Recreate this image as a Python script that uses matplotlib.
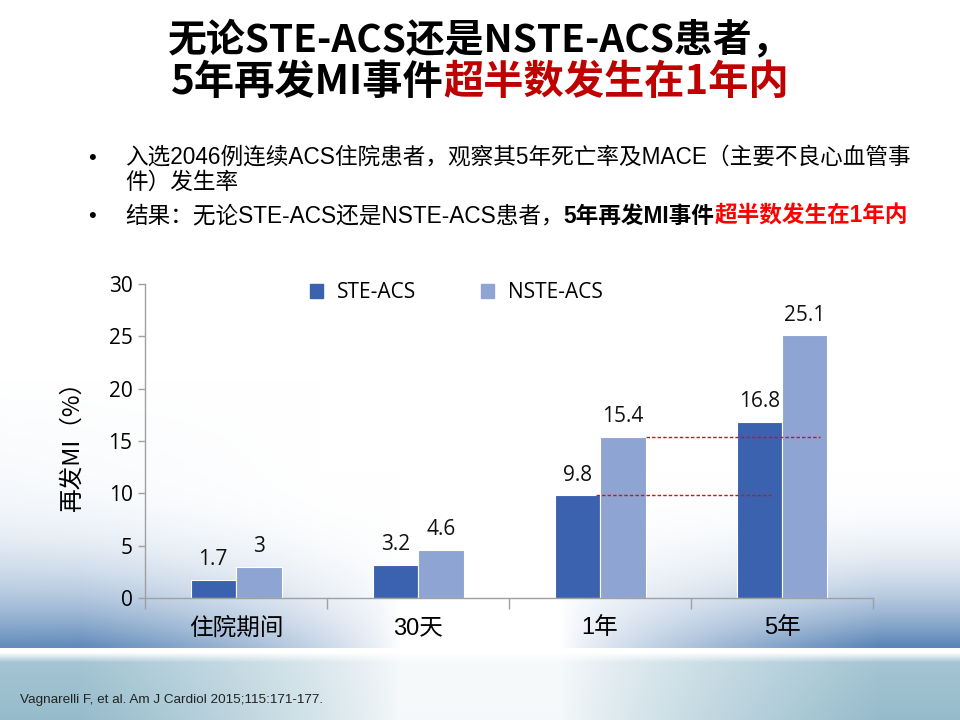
import numpy as np
import matplotlib
matplotlib.use("Agg")
import matplotlib.pyplot as plt
from matplotlib.patches import Patch

plt.rcParams['font.family'] = ['Noto Sans CJK SC', 'DejaVu Sans']

# data
categories = ["住院期间", "30天", "1年", "5年"]
ste_acs = [1.7, 3.2, 9.8, 16.8]
nste_acs = [3, 4.6, 15.4, 25.1]
series_names = ["STE-ACS", "NSTE-ACS"]
y_ticks = [0, 5, 10, 15, 20, 25, 30]

title_line1 = "无论STE-ACS还是NSTE-ACS患者，"
title_line2 = [("5年再发MI事件", "black"), ("超半数发生在1年内", "#C00000")]
bullet1 = ["入选2046例连续ACS住院患者，观察其5年死亡率及MACE（主要不良心血管事",
           "件）发生率"]
bullet2 = [("结果：无论STE-ACS还是NSTE-ACS患者，", "black", "normal"),
           ("5年再发MI事件", "black", "bold"),
           ("超半数发生在1年内", "#FF0000", "bold")]
citation = "Vagnarelli F, et al. Am J Cardiol 2015;115:171-177."

ste_color = "#3B62AE"
nste_color = "#8EA4D3"
W, H = 960, 720
body_font = ["Liberation Sans", "Noto Sans CJK SC"]
num_font = ["Open Sans", "DejaVu Sans"]


def make_background():
    yy, xx = np.mgrid[0:H, 0:W].astype(float)
    side = np.clip((np.abs(xx - W / 2) - 80) / 320, 0, 1) ** 0.8
    img = np.ones((H, W, 3))

    # bluish build-up towards the dark band on both sides
    a = np.clip((yy - 470) / 175, 0, 1) ** 2.5 * (yy < 648)
    blue = np.array([0.24, 0.44, 0.67])
    s = (a * side * 0.85)[..., None]
    img = img * (1 - s) + blue * s

    # faint light blue haze behind the chart on the left
    haze = 0.16 * np.clip((yy - 380) / 200, 0, 1) * np.clip((320 - xx) / 320, 0, 1)
    haze = haze * (yy < 648)
    img = img * (1 - haze[..., None]) + np.array([0.6, 0.72, 0.85]) * haze[..., None]

    # lower teal floor, bright in the middle
    fade = np.clip((yy - 652) / 10, 0, 1)
    b = fade * (0.08 + 0.8 * side) * (0.85 + 0.15 * np.clip((yy - 656) / 64, 0, 1))
    teal = np.array([0.53, 0.70, 0.77])
    img = img * (1 - b[..., None]) + teal * b[..., None]
    return np.clip(img, 0, 1)


def rich_text(fig, renderer, x, y, parts, ha="left", **common):
    texts = []
    for s, color, weight in parts:
        t = fig.text(0, y, s, color=color, fontweight=weight, va="center", **common)
        texts.append(t)
    widths = [t.get_window_extent(renderer).width / fig.bbox.width for t in texts]
    total = sum(widths)
    cur = x - total / 2 if ha == "center" else x
    for t, w in zip(texts, widths):
        t.set_x(cur)
        cur += w


fig = plt.figure(figsize=(9.6, 7.2), dpi=100)
renderer = fig.canvas.get_renderer()

bg = fig.add_axes([0, 0, 1, 1], zorder=-1)
bg.imshow(make_background(), aspect="auto", extent=[0, 1, 0, 1])
bg.axis("off")

# title
fig.text(0.5, 1 - 40 / H, title_line1, ha="center", va="center",
         fontsize=28, fontweight="heavy", color="black")
rich_text(fig, renderer, 0.5, 1 - 82 / H,
          [(s, c, "heavy") for s, c in title_line2], ha="center", fontsize=29)

# bullets
fig.text(88 / W, 1 - 158 / H, "•", fontsize=16, va="center", family=body_font)
fig.text(125 / W, 1 - 157 / H, bullet1[0], fontsize=16.3, va="center", family=body_font)
fig.text(125 / W, 1 - 182 / H, bullet1[1], fontsize=16.3, va="center", family=body_font)
fig.text(88 / W, 1 - 217 / H, "•", fontsize=16, va="center", family=body_font)
rich_text(fig, renderer, 125 / W, 1 - 216 / H, bullet2, fontsize=16.3, family=body_font)

# chart
ax = fig.add_axes([145 / W, 1 - 598 / H, (873 - 145) / W, (598 - 284) / H])
ax.patch.set_alpha(0)
x = np.arange(len(categories))
bw = 0.25
b1 = ax.bar(x - bw / 2, ste_acs, bw, color=ste_color, edgecolor="white", linewidth=0.8,
            label=series_names[0])
b2 = ax.bar(x + bw / 2, nste_acs, bw, color=nste_color, edgecolor="white", linewidth=0.8,
            label=series_names[1])

for bars, vals in [(b1, ste_acs), (b2, nste_acs)]:
    for rect, v in zip(bars, vals):
        ax.annotate(f"{v:g}", (rect.get_x() + rect.get_width() / 2, v),
                    xytext=(0, 7), textcoords="offset points", ha="center", va="bottom",
                    fontsize=15, family=num_font, color="#111111")

# dashed reference lines from the 1年 values
ax.plot([2.25, 3.21], [nste_acs[2], nste_acs[2]], color="#D0101A", lw=1.0,
        dashes=(2.5, 1.5))
ax.plot([1.98, 2.94], [ste_acs[2], ste_acs[2]], color="#D0101A", lw=1.0,
        dashes=(2.5, 1.5))

ax.set_xlim(-0.5, 3.5)
ax.set_ylim(0, 30)
ax.set_yticks(y_ticks)
ax.set_yticklabels([str(v) for v in y_ticks], family=num_font, fontsize=15)
ax.set_xticks(np.arange(-0.5, 4.0, 1.0))
ax.set_xticklabels([])
ax.tick_params(axis="x", length=8, color="#A0A0A0", width=1)
ax.tick_params(axis="y", length=5, color="#A0A0A0", width=1, pad=4)
for i, c in enumerate(categories):
    ax.text(i, -2.9, c, ha="center", va="center", fontsize=17, family=body_font)
for s in ["top", "right"]:
    ax.spines[s].set_visible(False)
for s in ["left", "bottom"]:
    ax.spines[s].set_color("#A0A0A0")
    ax.spines[s].set_linewidth(1)
ax.set_ylabel("再发MI（%）", fontsize=17, labelpad=18)

handles = [Patch(color=ste_color), Patch(color=nste_color)]
ax.legend(handles, series_names, loc="upper center", bbox_to_anchor=(0.428, 1.065),
          ncol=2, frameon=False, handlelength=0.6, handleheight=0.6, handletextpad=0.7,
          columnspacing=3.1, prop={"family": num_font, "size": 15})

fig.text(20 / W, 1 - 700 / H, citation, fontsize=9.7, va="center",
         family=["Liberation Sans Narrow", "Liberation Sans"], color="#222222")

fig.savefig("out.png", dpi=100)
